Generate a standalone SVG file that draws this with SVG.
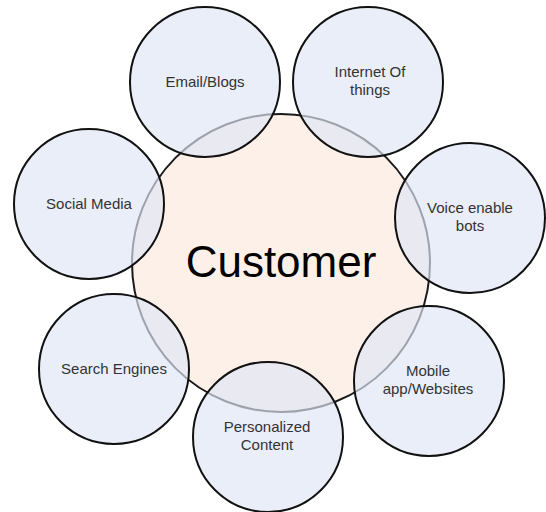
<svg xmlns="http://www.w3.org/2000/svg" width="546" height="512" viewBox="0 0 546 512">
  <style>
    .hub { fill: #fcf0e8; stroke: #1a1a1a; stroke-width: 2; }
    .spoke { fill: rgb(222,230,245); fill-opacity: 0.67; stroke: #111; stroke-width: 2; }
    .lbl { font-family: "Liberation Sans", Arial, sans-serif; font-size: 15px; fill: #333; text-anchor: middle; }
    .hub-lbl { font-family: "Liberation Sans", Arial, sans-serif; font-size: 44px; fill: #000; text-anchor: middle; }
  </style>
  <rect width="546" height="512" fill="#ffffff"/>

  <g id="customer">
    <circle class="hub" cx="281" cy="263" r="149"/>
    <text class="hub-lbl" x="281" y="277">Customer</text>
  </g>

  <g id="email-blogs">
    <circle class="spoke" cx="205" cy="82" r="75"/>
    <text class="lbl" x="205" y="87">Email/Blogs</text>
  </g>

  <g id="internet-of-things">
    <circle class="spoke" cx="368" cy="82" r="75"/>
    <text class="lbl" x="370" y="77">Internet Of</text>
    <text class="lbl" x="370" y="95">things</text>
  </g>

  <g id="social-media">
    <circle class="spoke" cx="89" cy="204" r="75"/>
    <text class="lbl" x="89" y="209">Social Media</text>
  </g>

  <g id="voice-bots">
    <circle class="spoke" cx="470" cy="218" r="75"/>
    <text class="lbl" x="470" y="213">Voice enable</text>
    <text class="lbl" x="470" y="231">bots</text>
  </g>

  <g id="search-engines">
    <circle class="spoke" cx="114" cy="369" r="75"/>
    <text class="lbl" x="114" y="374">Search Engines</text>
  </g>

  <g id="mobile-websites">
    <circle class="spoke" cx="429" cy="381" r="75"/>
    <text class="lbl" x="428" y="376">Mobile</text>
    <text class="lbl" x="428" y="394">app/Websites</text>
  </g>

  <g id="personalized-content">
    <circle class="spoke" cx="268" cy="437" r="75"/>
    <text class="lbl" x="267" y="432">Personalized</text>
    <text class="lbl" x="267" y="450">Content</text>
  </g>
</svg>
